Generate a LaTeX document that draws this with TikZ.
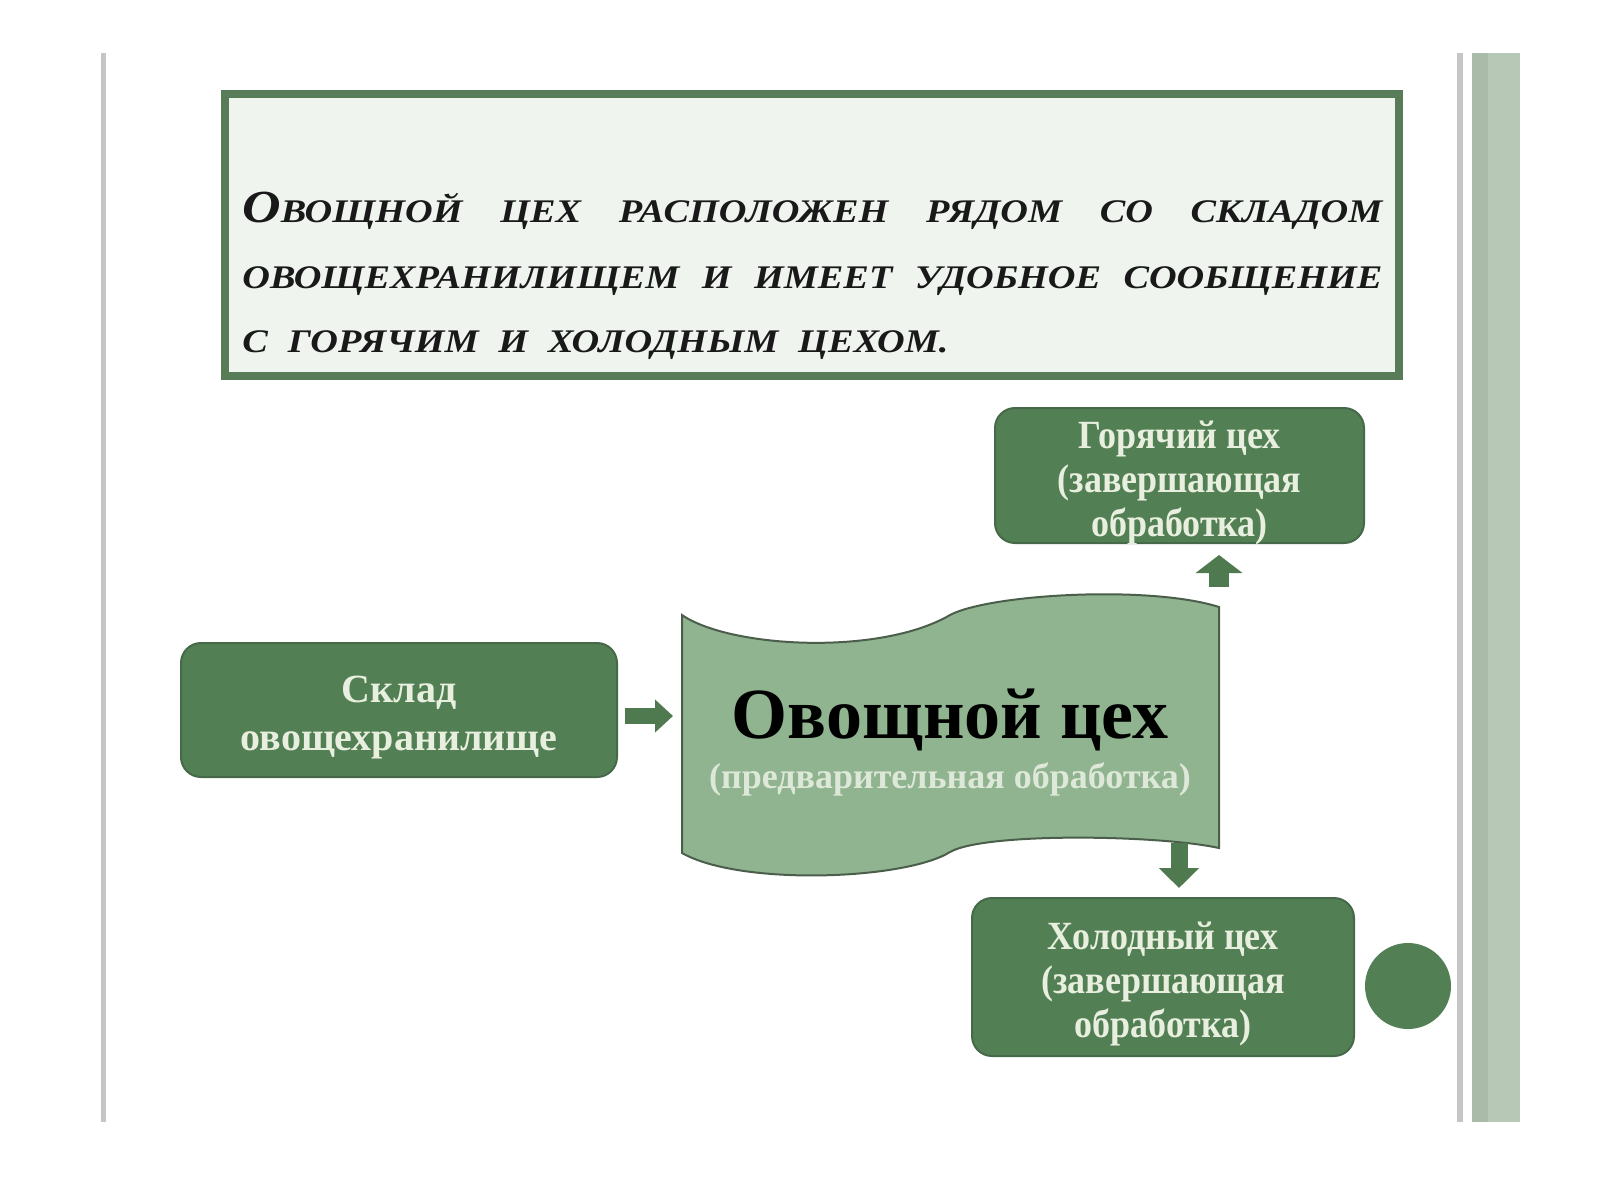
\documentclass[tikz,border=0pt]{standalone}
\usepackage{fontspec}
\setmainfont{Liberation Serif}
\newfontfamily\introfont{Liberation Serif}[FakeStretch=1.16]
\newfontfamily\boxfont{Liberation Serif}[FakeStretch=0.9]
\usetikzlibrary{arrows.meta,calc}
\definecolor{boxGreen}{HTML}{527F53}
\definecolor{boxBorder}{HTML}{46694A}
\definecolor{boxText}{HTML}{E8EFDF}
\definecolor{frameGreen}{HTML}{587C58}
\definecolor{paleGreen}{HTML}{EFF4EF}
\definecolor{waveFill}{HTML}{8FB48F}
\definecolor{waveBorder}{HTML}{4B5E4B}
\definecolor{waveSub}{HTML}{DDE8D8}
\definecolor{lineGrey}{HTML}{C4C6C4}
\definecolor{barA}{HTML}{AABBAA}
\definecolor{barB}{HTML}{B7C8B7}
\definecolor{arrowGreen}{HTML}{4F7A50}
\tikzset{
  gbox/.style={draw=boxBorder, fill=boxGreen, rounded corners=10pt, line width=1pt, inner sep=0pt},
  gtext/.style={text=boxText, font=\boxfont\fontsize{20}{22}\selectfont\bfseries, align=center, inner sep=0pt},
  stext/.style={text=boxText, font=\fontsize{20}{24}\selectfont\bfseries, align=center, inner sep=0pt},
  topline/.style={anchor=base west, inner sep=0pt, text=black!90,
    font=\introfont\fontsize{16.5}{17}\selectfont\bfseries\itshape},
  blockarrow/.style={draw=arrowGreen, line width=#1, arrowGreen},
}
\begin{document}
\begin{tikzpicture}[x=0.5pt,y=-0.5pt]
\useasboundingbox (0,0) rectangle (1600,1200);
\fill[white] (0,0) rectangle (1600,1200);
% frame lines
\fill[lineGrey] (101,53) rectangle (106,1122);
\fill[lineGrey] (1457,53) rectangle (1463,1122);
\fill[barA] (1472,53) rectangle (1488,1122);
\fill[barB] (1488,53) rectangle (1520,1122);
% intro box
\node[draw=frameGreen, fill=paleGreen, line width=4pt, minimum width=587pt, minimum height=141pt, inner sep=0pt] (intro) at (812,235) {};
\node[topline] (l1) at (242,222) {\makebox[570pt][s]{{\fontsize{23}{23}\selectfont О}ВОЩНОЙ ЦЕХ РАСПОЛОЖЕН РЯДОМ СО СКЛАДОМ}};
\node[topline] (l2) at (242,288) {\makebox[570pt][s]{ОВОЩЕХРАНИЛИЩЕМ И ИМЕЕТ УДОБНОЕ СООБЩЕНИЕ}};
\node[topline] (l3) at (242,352) {\makebox[353pt][s]{С ГОРЯЧИМ И ХОЛОДНЫМ ЦЕХОМ.}};
% boxes
\node[gbox, minimum width=218pt, minimum height=67pt] (sklad) at (399,710) {};
\node[stext] (skladT) at ($(sklad.center)+(0,8)$) {Склад\\овощехранилище};
\node[gbox, minimum width=184.5pt, minimum height=67.5pt] (gor) at (1179.5,475.5) {};
\node[gtext] (gorT) at ($(gor.center)+(0,7)$) {Горячий цех\\(завершающая\\обработка)};
\node[gbox, minimum width=191pt, minimum height=79pt] (hol) at (1163,977) {};
\node[gtext] (holT) at ($(hol.center)+(0,7)$) {Холодный цех\\(завершающая\\обработка)};
\node[circle, fill=boxGreen, minimum size=43pt, inner sep=0pt] (dot) at (1408,986) {};
% wave
\draw[fill=waveFill, draw=waveBorder, line width=1pt]
  (682,615) .. controls (730,648) and (880,656) .. (950,615)
  .. controls (990,594) and (1150,585) .. (1219,607)
  -- (1219,848) .. controls (1160,835) and (985,832) .. (950,852)
  .. controls (905,880) and (740,886) .. (682,853) -- cycle;
\coordinate (wl) at (682,716);
\coordinate (wt) at (1219,607);
\coordinate (wb) at (1179,843);
\node[font=\fontsize{36}{36}\selectfont\bfseries, text=black, inner sep=0pt, anchor=base] (wtitle) at (950,738) {Овощной цех};
\node[font=\fontsize{18}{18}\selectfont\bfseries, text=waveSub, inner sep=0pt] (wsub) at (950,779) {(предварительная обработка)};
% arrows
\draw[blockarrow=8pt, -{Triangle[length=9pt,width=16pt]}, shorten <=3.5pt, shorten >=4.5pt] (wl -| sklad.east) -- (wl);
\draw[blockarrow=10pt, -{Triangle[length=9pt,width=23pt]}, shorten <=10pt, shorten >=5.5pt] (wt) -- (wt |- gor.south);
\draw[blockarrow=8.5pt, -{Triangle[length=10pt,width=19.5pt]}, shorten >=4.5pt] (wb) -- (wb |- hol.north);
\end{tikzpicture}
\end{document}
